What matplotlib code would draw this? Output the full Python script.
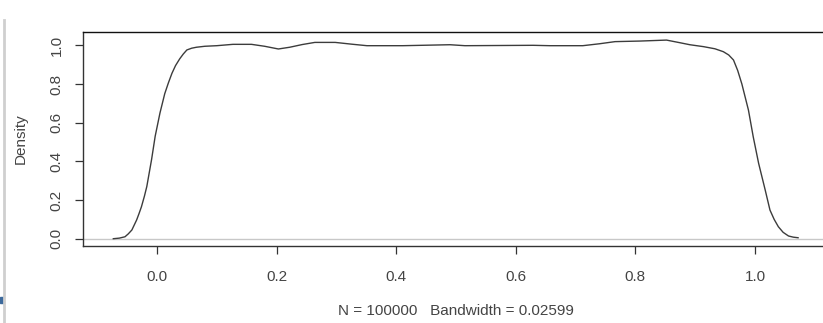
import matplotlib
matplotlib.use("Agg")
import matplotlib.pyplot as plt
from matplotlib.lines import Line2D
from matplotlib.patches import Rectangle

plt.rcParams['font.family'] = ['Liberation Sans', 'DejaVu Sans']

# Kernel density estimate of a uniform(0, 1) sample
x_vals = [-0.073, -0.063, -0.0535, -0.048, -0.042, -0.034, -0.030, -0.026,
          -0.021, -0.017, -0.013, -0.009, -0.003, 0.005, 0.013, 0.019,
          0.025, 0.031, 0.038, 0.044, 0.050, 0.058, 0.066, 0.080, 0.100,
          0.127, 0.158, 0.180, 0.203, 0.222, 0.243, 0.264, 0.298, 0.325,
          0.351, 0.411, 0.490, 0.515, 0.629, 0.657, 0.712, 0.740, 0.766,
          0.808, 0.852, 0.875, 0.891, 0.914, 0.933, 0.947, 0.956, 0.964,
          0.971, 0.978, 0.989, 0.997, 1.006, 1.017, 1.025, 1.032, 1.039,
          1.047, 1.056, 1.064, 1.072]
density = [0.000, 0.003, 0.010, 0.025, 0.045, 0.097, 0.130, 0.165,
           0.220, 0.270, 0.340, 0.410, 0.530, 0.650, 0.750, 0.805,
           0.855, 0.895, 0.930, 0.955, 0.976, 0.985, 0.990, 0.995, 0.998,
           1.005, 1.005, 0.995, 0.981, 0.990, 1.004, 1.015, 1.015, 1.006,
           0.998, 0.998, 1.003, 0.998, 1.000, 0.998, 0.998, 1.008, 1.019,
           1.022, 1.027, 1.013, 1.003, 0.993, 0.982, 0.967, 0.950, 0.924,
           0.870, 0.800, 0.665, 0.527, 0.390, 0.252, 0.148, 0.100, 0.062,
           0.033, 0.014, 0.008, 0.005]

x_ticks = [0.0, 0.2, 0.4, 0.6, 0.8, 1.0]
y_ticks = [0.0, 0.2, 0.4, 0.6, 0.8, 1.0]
x_label = "N = 100000   Bandwidth = 0.02599"
y_label = "Density"

W, H = 823, 323
fig = plt.figure(figsize=(W / 100, H / 100), dpi=100)
fig.patch.set_facecolor('white')

# plot region (the frame runs a little past the right edge of the canvas)
left, right, top, bottom = 83, 829, 32, 246
ax = fig.add_axes([left / W, (H - bottom) / H, (right - left) / W, (bottom - top) / H])

text_col = '#444444'
ax.axhline(0, color='#c8c8c8', lw=1.0, zorder=1)
ax.plot(x_vals, density, color='#3c3c3c', lw=1.0, zorder=2,
        solid_joinstyle='round')

ax.set_xlim(-0.1237, 1.1237)
ax.set_ylim(-0.0377, 1.0688)

ax.set_xticks(x_ticks)
ax.set_xticklabels([f"{v:.1f}" for v in x_ticks])
ax.set_yticks(y_ticks)
ax.set_yticklabels([f"{v:.1f}" for v in y_ticks], rotation=90, va='center')

ax.tick_params(axis='both', direction='out', length=6, width=0.9,
               colors='#333333', labelcolor=text_col, labelsize=11)
ax.tick_params(axis='x', pad=11)
ax.tick_params(axis='y', pad=8)

for side in ['top', 'bottom', 'left', 'right']:
    ax.spines[side].set_linewidth(1.0)
ax.spines['top'].set_color('#111111')
ax.spines['left'].set_color('#333333')
ax.spines['bottom'].set_color('#333333')

ax.set_xlabel(x_label, fontsize=11, color=text_col, labelpad=15)
ax.set_ylabel(y_label, fontsize=11, color=text_col, labelpad=16)

# window edge on the far left
fig.add_artist(Line2D([3.5 / W, 3.5 / W], [0, (H - 20) / H], color='#cfcfcf',
                      lw=2.0, transform=fig.transFigure))
fig.add_artist(Rectangle((0, (H - 303) / H), 2.5 / W, 6 / H, color='#3d6a9c',
                         transform=fig.transFigure))

fig.savefig('out.png', dpi=100, facecolor='white')
